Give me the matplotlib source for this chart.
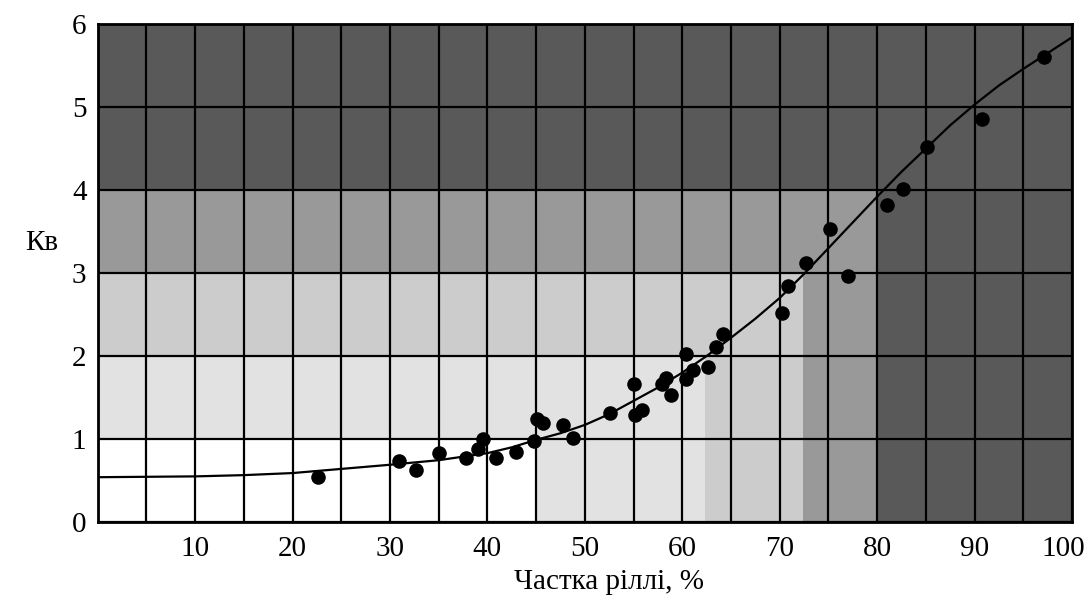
import numpy as np
import matplotlib
matplotlib.use("Agg")
import matplotlib.pyplot as plt
import matplotlib.transforms as mtransforms
from matplotlib.colors import ListedColormap

# observed points
pts_x = [22.6, 30.9, 32.7, 35.0, 37.8, 39.0, 39.6, 40.9, 42.9, 44.8, 45.1, 45.7, 47.8, 48.8,
         52.6, 55.0, 55.2, 55.9, 57.9, 58.3, 58.8, 60.4, 60.4, 61.1, 62.6, 63.5, 64.2,
         70.2, 70.9, 72.7, 75.2, 77.0, 81.0, 82.7, 85.1, 90.8, 97.1]
pts_y = [0.54, 0.73, 0.63, 0.83, 0.77, 0.88, 1.00, 0.77, 0.84, 0.98, 1.24, 1.19, 1.17, 1.01,
         1.31, 1.66, 1.29, 1.35, 1.66, 1.73, 1.53, 2.02, 1.72, 1.83, 1.87, 2.11, 2.27,
         2.52, 2.84, 3.12, 3.53, 2.96, 3.82, 4.01, 4.52, 4.86, 5.60]

# fitted curve
curve_x = [0, 5, 10, 15, 20, 25, 30, 35, 40, 42.5, 45, 47.5, 50, 52.5, 55, 57.5, 60, 62.5,
           65, 67.5, 70, 72.5, 75, 77.5, 80, 82.5, 85, 87.5, 90, 92.5, 95, 97.5, 100]
curve_y = [0.54, 0.545, 0.55, 0.565, 0.59, 0.64, 0.69, 0.745, 0.83, 0.9, 0.99, 1.07, 1.17,
           1.3, 1.46, 1.62, 1.80, 2.0, 2.22, 2.45, 2.70, 2.99, 3.30, 3.61, 3.92, 4.22, 4.50,
           4.78, 5.03, 5.26, 5.46, 5.65, 5.84]

# background zones
zone_x_edges = [0, 45, 62.3, 72.4, 80, 100]
zone_y_edges = [0, 1, 2, 3, 4, 6]
zone_colors = ["#ffffff", "#e2e2e2", "#cccccc", "#999999", "#595959"]

x_ticks = [10, 20, 30, 40, 50, 60, 70, 80, 90, 100]
y_ticks = [0, 1, 2, 3, 4, 5, 6]

plt.rcParams['font.family'] = ['Liberation Serif', 'DejaVu Serif']

fig = plt.figure(figsize=(10.91, 6.01), dpi=100)
ax = fig.add_axes([0.0895, 0.1314, 0.8931, 0.8286])

nx = len(zone_x_edges) - 1
ny = len(zone_y_edges) - 1
cls = np.array([[max(i, j) for j in range(nx)] for i in range(ny)])
cmap = ListedColormap(zone_colors)
ax.pcolormesh(zone_x_edges, zone_y_edges, cls, cmap=cmap, vmin=-0.5, vmax=4.5,
              shading='flat', zorder=0)

ax.set_xlim(0, 100)
ax.set_ylim(0, 6)
ax.set_xticks(x_ticks)
ax.set_xticks(np.arange(0, 101, 5), minor=True)
ax.set_yticks(y_ticks)
ax.grid(True, which='both', axis='x', color='black', linewidth=1.6, zorder=1)
ax.grid(True, which='major', axis='y', color='black', linewidth=1.6, zorder=1)
ax.set_axisbelow(False)
ax.tick_params(which='both', length=0, labelsize=21, pad=10)
ax.tick_params(axis='y', pad=8)
for s in ax.spines.values():
    s.set_linewidth(2)
    s.set_color('black')

fig.canvas.draw()
last = ax.get_xticklabels()[-1]
last.set_transform(last.get_transform() + mtransforms.ScaledTranslation(-9/100, 0, fig.dpi_scale_trans))

ax.plot(curve_x, curve_y, color='black', linewidth=1.6, zorder=3)
ax.scatter(pts_x, pts_y, s=110, color='black', zorder=4, linewidths=0)

ax.set_xlabel('Частка ріллі, %', fontsize=21)
ax.xaxis.set_label_coords(0.525, -0.095)
fig.text(0.038, 0.595, 'Кв', fontsize=21, ha='center', va='center')

fig.savefig('out.png', dpi=100)
